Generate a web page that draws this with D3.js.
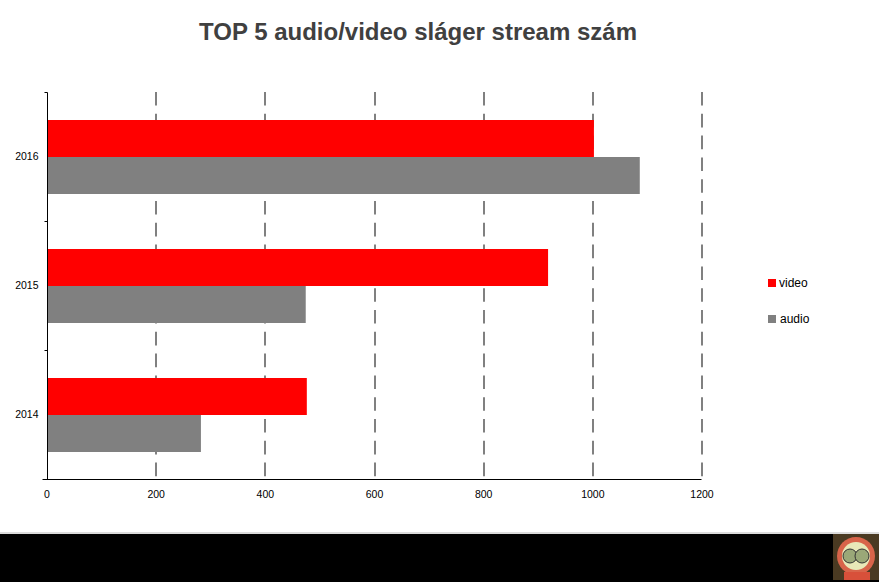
<!DOCTYPE html>
<html><head><meta charset="utf-8">
<script src="https://cdn.jsdelivr.net/npm/d3@7/dist/d3.min.js"></script>
<style>html,body{margin:0;background:#fff}svg{display:block}</style></head>
<body><svg id="c" width="879" height="582"></svg>
<script>
const years = ["2016","2015","2014"];
const seriesNames = ["video","audio"];
const videoValues = [1002,918,476];
const audioValues = [1086,474,282];
const xTicks = [0,200,400,600,800,1000,1200];
const colors = ["#ff0000","#808080"];
const chartTitle = "TOP 5 audio/video sláger stream szám";
const F = "Liberation Sans, Arial, sans-serif";

const svg = d3.select("#c");
const x = d3.scaleLinear().domain([0,1200]).range([47,702]);
const y = d3.scaleBand().domain(years).range([92.5,479.5]);
const inner = d3.scaleBand().domain(seriesNames).range([0,y.bandwidth()]).paddingInner(0).paddingOuter(0.743);

// footer band
svg.append("rect").attr("x",0).attr("y",532).attr("width",879).attr("height",2).attr("fill","#dcdcdc");
svg.append("rect").attr("x",0).attr("y",534).attr("width",879).attr("height",48).attr("fill","#000");

// gridlines
svg.append("g").selectAll("line").data(xTicks.slice(1)).join("line")
  .attr("x1",d=>Math.round(x(d))).attr("x2",d=>Math.round(x(d))).attr("y1",92).attr("y2",479)
  .attr("stroke","#808080").attr("stroke-width",2).attr("stroke-dasharray","13.6 8.2");

// bars
const table = years.map((yr,i)=>({yr,vals:[videoValues[i],audioValues[i]]}));
table.forEach(row=>{
  svg.append("g").selectAll("rect").data(row.vals).join("rect")
    .attr("x",x(0)).attr("y",(d,i)=>Math.round(y(row.yr)+inner(seriesNames[i])))
    .attr("width",d=>x(d)-x(0)).attr("height",Math.round(inner.bandwidth()))
    .attr("fill",(d,i)=>colors[i]);
});

// axes
const xAxis = d3.axisBottom(x).tickValues(xTicks).tickSize(0).tickPadding(11).tickFormat(d3.format("d"));
const gx = svg.append("g").attr("transform","translate(-0.5,479.5)").call(xAxis);
gx.select(".domain").attr("stroke","#000").attr("d","M43,0H702");
gx.selectAll("text").attr("font-family",F).attr("font-size",10.5).attr("fill","#000");

const yAxis = d3.axisLeft(y).tickSize(0).tickPadding(9);
const gy = svg.append("g").attr("transform","translate(47.5,0)").call(yAxis);
gy.select(".domain").attr("stroke","#000").attr("d","M-3,92.5H0V479");
gy.selectAll("text").attr("font-family",F).attr("font-size",10.5).attr("fill","#000");
gy.selectAll(".sep").data(years.slice(1)).join("line").attr("class","sep")
  .attr("x1",-3).attr("x2",0).attr("y1",d=>Math.floor(y(d))+0.5).attr("y2",d=>Math.floor(y(d))+0.5).attr("stroke","#000");

// title
svg.append("text").attr("x",418).attr("y",40).attr("text-anchor","middle")
  .attr("font-family",F).attr("font-weight","bold").attr("font-size",24).attr("fill","#404040").text(chartTitle);

// legend
const lg = svg.append("g").selectAll("g").data(seriesNames).join("g")
  .attr("transform",(d,i)=>`translate(768,${279+i*36})`);
lg.append("rect").attr("width",8).attr("height",8).attr("fill",(d,i)=>colors[i]);
lg.append("text").attr("x",(d,i)=>11+i).attr("y",8).attr("font-family",F).attr("font-size",12).attr("fill","#000").text(d=>d);

// logo
const logo = svg.append("g");
logo.append("rect").attr("x",833).attr("y",534).attr("width",46).attr("height",46).attr("fill","#4a3a22");
logo.append("circle").attr("cx",856).attr("cy",556).attr("r",19).attr("fill","#d8644a");
logo.append("circle").attr("cx",856).attr("cy",556).attr("r",14).attr("fill","#e8e8b8");
logo.append("circle").attr("cx",850).attr("cy",556).attr("r",7).attr("fill","#9aa878").attr("stroke","#333");
logo.append("circle").attr("cx",862).attr("cy",556).attr("r",7).attr("fill","#9aa878").attr("stroke","#333");
logo.append("rect").attr("x",844).attr("y",572).attr("width",26).attr("height",8).attr("fill","#d8503a");
</script></body></html>
